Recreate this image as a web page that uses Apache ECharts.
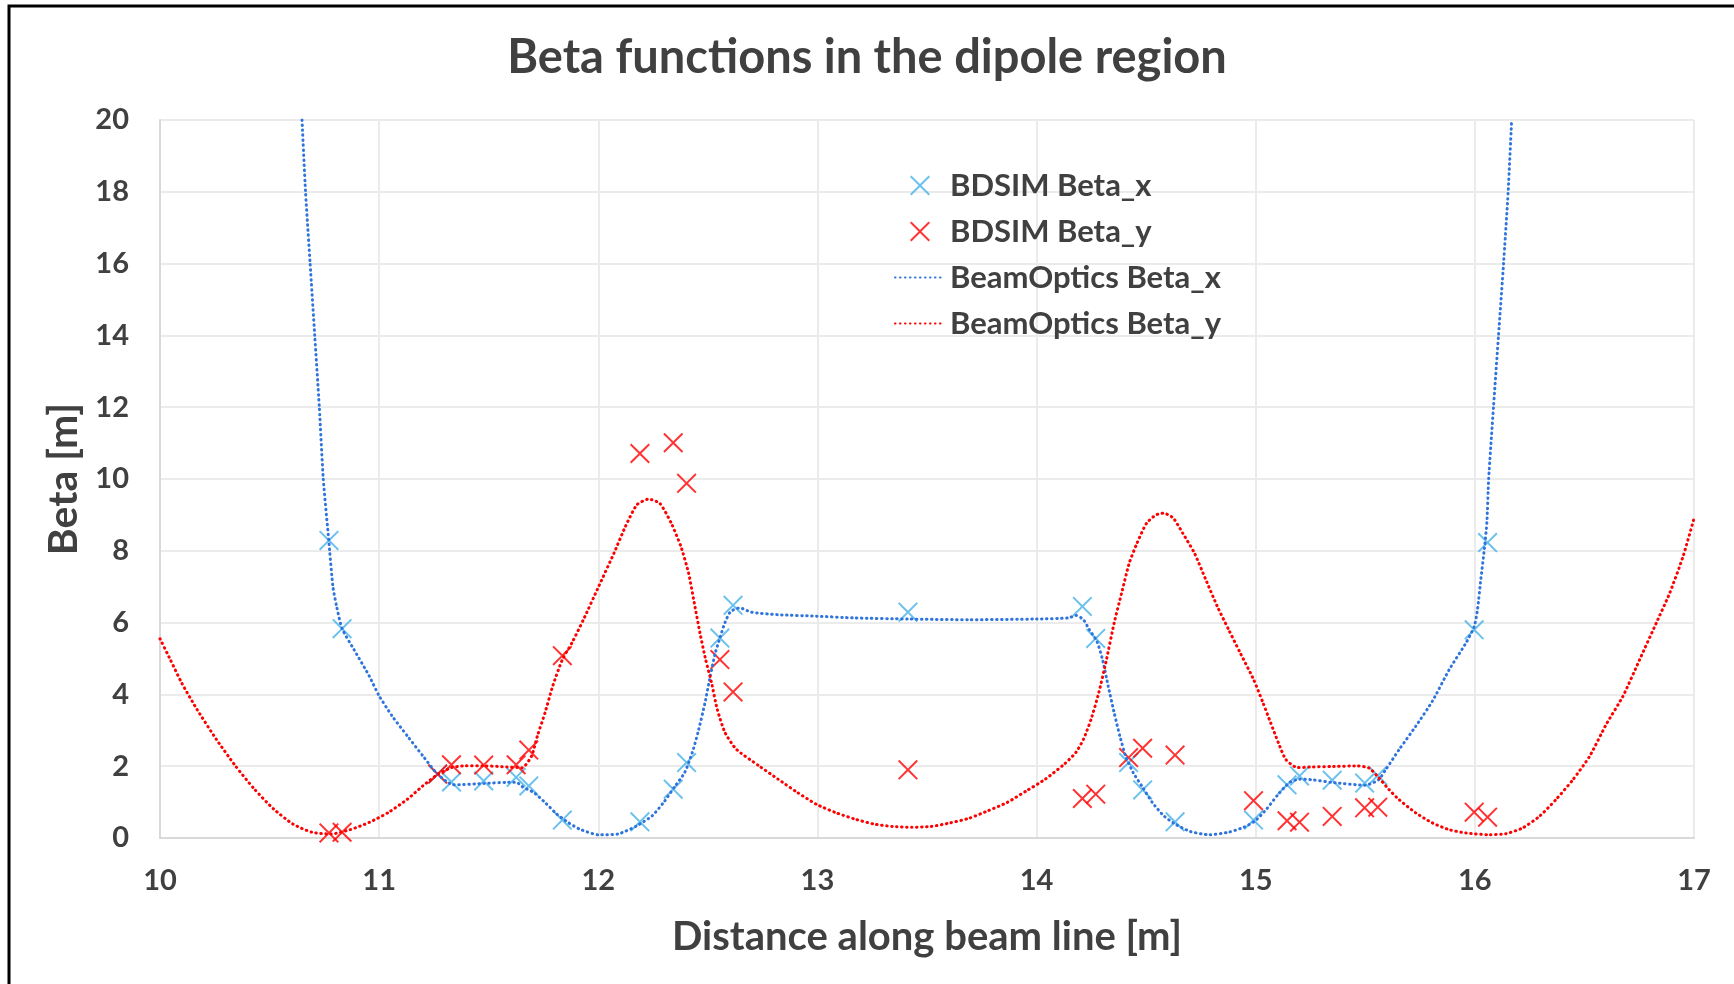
<!DOCTYPE html>
<html>
<head>
<meta charset="utf-8">
<title>Beta functions in the dipole region</title>
<script src="https://cdn.jsdelivr.net/npm/echarts@6/dist/echarts.min.js"></script>
<style>
html, body { margin: 0; padding: 0; background: #fff; }
#chart { width: 1734px; height: 984px; }
</style>
</head>
<body>
<div id="chart"></div>
<script>
// BDSIM sample positions along the beam line [m]
var bdsimS = [10.771, 10.831, 11.267, 11.33, 11.477, 11.625, 11.683, 11.836, 12.19, 12.342, 12.403, 12.555, 12.615,
    13.413, 14.209, 14.27, 14.42, 14.484, 14.632, 14.99, 15.143, 15.2, 15.349, 15.497, 15.557, 15.997, 16.058];
var bdsimBetaX = [8.29, 5.83, 1.78, 1.56, 1.59, 1.69, 1.45, 0.5, 0.45, 1.36, 2.1, 5.57, 6.48,
    6.29, 6.45, 5.56, 2.1, 1.34, 0.45, 0.5, 1.48, 1.73, 1.61, 1.53, 1.74, 5.8, 8.23];
var bdsimBetaY = [0.14, 0.16, 1.78, 2.04, 2.03, 2.04, 2.45, 5.08, 10.71, 11.01, 9.88, 4.97, 4.07,
    1.9, 1.1, 1.22, 2.24, 2.5, 2.31, 1.04, 0.48, 0.44, 0.6, 0.84, 0.86, 0.72, 0.58];

// BeamOptics curves, [s, beta]
var opticsBetaX = [[10.648, 20], [10.664, 18], [10.685, 16], [10.706, 14], [10.727, 12], [10.745, 10], [10.77, 8.3],
    [10.789, 7.0], [10.806, 6.45], [10.831, 5.83], [10.885, 5.25], [10.955, 4.51], [10.998, 3.98], [11.059, 3.4],
    [11.129, 2.84], [11.199, 2.29], [11.26, 1.82], [11.304, 1.59], [11.339, 1.48], [11.478, 1.52], [11.583, 1.55],
    [11.627, 1.55], [11.653, 1.43], [11.705, 1.27], [11.757, 0.99], [11.81, 0.67], [11.862, 0.435], [11.914, 0.25],
    [12.0, 0.09], [12.089, 0.11], [12.176, 0.34], [12.246, 0.62], [12.298, 0.99], [12.351, 1.45], [12.394, 1.82],
    [12.429, 2.38], [12.455, 2.94], [12.487, 3.77], [12.511, 4.51], [12.534, 5.16], [12.555, 5.57], [12.578, 6.0],
    [12.604, 6.31], [12.646, 6.41], [12.699, 6.29], [12.82, 6.22], [12.995, 6.18], [13.169, 6.13], [13.413, 6.1],
    [13.692, 6.08], [14.0, 6.1], [14.145, 6.13], [14.18, 6.2], [14.214, 6.08], [14.24, 5.81], [14.275, 5.48],
    [14.301, 4.97], [14.327, 4.23], [14.354, 3.49], [14.38, 2.84], [14.406, 2.29], [14.441, 1.82], [14.484, 1.41],
    [14.528, 0.99], [14.58, 0.62], [14.632, 0.39], [14.702, 0.18], [14.789, 0.09], [14.876, 0.16], [14.946, 0.3],
    [14.998, 0.48], [15.05, 0.81], [15.103, 1.22], [15.155, 1.55], [15.2, 1.64], [15.26, 1.62], [15.347, 1.55],
    [15.5, 1.47], [15.56, 1.62], [15.593, 1.9], [15.654, 2.46], [15.73, 3.11], [15.806, 3.81], [15.883, 4.69],
    [15.959, 5.43], [15.997, 5.89], [16.012, 6.36], [16.027, 7.19], [16.043, 8.03], [16.055, 8.8], [16.063, 10],
    [16.085, 12], [16.108, 14], [16.131, 16], [16.152, 18], [16.168, 20]];
var opticsBetaY = [[10, 5.55], [10.047, 4.97], [10.099, 4.32], [10.169, 3.58], [10.257, 2.75], [10.344, 2.01],
    [10.431, 1.36], [10.518, 0.81], [10.606, 0.39], [10.693, 0.16], [10.78, 0.11], [10.867, 0.23], [10.955, 0.435],
    [11.042, 0.71], [11.129, 1.08], [11.199, 1.45], [11.269, 1.78], [11.33, 1.96], [11.391, 2.01], [11.478, 2.01],
    [11.583, 1.98], [11.653, 1.96], [11.696, 2.29], [11.722, 2.84], [11.757, 3.49], [11.792, 4.23], [11.836, 4.97],
    [11.88, 5.44], [11.932, 6.08], [12.002, 7.01], [12.072, 7.94], [12.124, 8.68], [12.176, 9.28], [12.229, 9.44],
    [12.281, 9.32], [12.333, 8.77], [12.377, 8.12], [12.412, 7.38], [12.438, 6.55], [12.464, 5.71], [12.49, 4.97],
    [12.517, 4.32], [12.543, 3.58], [12.578, 2.94], [12.63, 2.47], [12.733, 2.01], [12.82, 1.64], [12.908, 1.27],
    [12.995, 0.94], [13.082, 0.71], [13.169, 0.53], [13.256, 0.39], [13.343, 0.32], [13.43, 0.3], [13.517, 0.32],
    [13.605, 0.42], [13.692, 0.55], [13.779, 0.76], [13.866, 0.99], [13.953, 1.31], [14.04, 1.64], [14.127, 2.06],
    [14.179, 2.38], [14.214, 2.75], [14.249, 3.31], [14.284, 4.05], [14.319, 4.97], [14.354, 5.99], [14.388, 6.82],
    [14.423, 7.66], [14.458, 8.21], [14.502, 8.77], [14.545, 9.0], [14.58, 9.05], [14.624, 8.91], [14.667, 8.49],
    [14.72, 7.94], [14.772, 7.2], [14.824, 6.46], [14.876, 5.81], [14.929, 5.16], [14.99, 4.42], [15.033, 3.77],
    [15.068, 3.21], [15.103, 2.66], [15.137, 2.19], [15.19, 1.96], [15.26, 1.98], [15.347, 1.99], [15.463, 2.01],
    [15.517, 1.95], [15.563, 1.67], [15.608, 1.35], [15.654, 1.07], [15.73, 0.7], [15.806, 0.42], [15.883, 0.23],
    [15.959, 0.14], [16.066, 0.09], [16.142, 0.12], [16.218, 0.28], [16.294, 0.6], [16.37, 1.07], [16.447, 1.62],
    [16.523, 2.27], [16.599, 3.16], [16.675, 3.94], [16.752, 4.97], [16.828, 5.99], [16.889, 6.82], [16.95, 7.84],
    [17.0, 8.9]];

var seriesNames = ['BDSIM Beta_x', 'BDSIM Beta_y', 'BeamOptics Beta_x', 'BeamOptics Beta_y'];

var FONT = 'Lato';
var TEXT = '#404040';
// thin "x" marker
var crossSymbol = 'path://M0,7L7,0L50,43L93,0L100,7L57,50L100,93L93,100L50,57L7,100L0,93L43,50Z';

function pairs(xs, ys) {
    var out = [];
    for (var i = 0; i < xs.length; i++) {
        out.push([xs[i], ys[i]]);
    }
    return out;
}

var option = {
    backgroundColor: '#fff',
    animation: false,
    title: {
        text: 'Beta functions in the dipole region',
        left: 'center',
        top: 34,
        padding: 0,
        textStyle: {fontFamily: FONT, fontWeight: 'bold', fontSize: 47, color: TEXT}
    },
    legend: {
        orient: 'vertical',
        left: 889,
        top: 165,
        itemWidth: 50,
        itemHeight: 20,
        itemGap: 15,
        data: [
            {name: seriesNames[0]},
            {name: seriesNames[1]},
            // dotted line only, no dot in the middle
            {name: seriesNames[2], itemStyle: {opacity: 0}},
            {name: seriesNames[3], itemStyle: {opacity: 0}}
        ],
        textStyle: {fontFamily: FONT, fontWeight: 'bold', fontSize: 31, color: TEXT}
    },
    grid: {left: 160, right: 40, top: 120, bottom: 146},
    xAxis: {
        type: 'value',
        min: 10,
        max: 17,
        interval: 1,
        name: 'Distance along beam line [m]',
        nameLocation: 'middle',
        nameGap: 79,
        nameTextStyle: {fontFamily: FONT, fontWeight: 'bold', fontSize: 40, color: TEXT},
        axisLine: {show: true, lineStyle: {color: '#d9d9d9', width: 2}},
        axisTick: {show: false},
        axisLabel: {margin: 28, fontFamily: FONT, fontWeight: 'bold', fontSize: 29, color: TEXT},
        splitLine: {show: true, lineStyle: {color: '#ebebeb', width: 2}}
    },
    yAxis: {
        type: 'value',
        min: 0,
        max: 20,
        interval: 2,
        name: 'Beta [m]',
        nameLocation: 'middle',
        nameGap: 74,
        nameTextStyle: {fontFamily: FONT, fontWeight: 'bold', fontSize: 41, color: TEXT},
        axisLine: {show: true, lineStyle: {color: '#d9d9d9', width: 2}},
        axisTick: {show: false},
        axisLabel: {margin: 31, fontFamily: FONT, fontWeight: 'bold', fontSize: 29, color: TEXT},
        splitLine: {show: true, lineStyle: {color: '#ebebeb', width: 2}}
    },
    graphic: [{
        type: 'rect',
        silent: true,
        shape: {x: 9, y: 6, width: 1900, height: 1100},
        style: {fill: 'none', stroke: '#000', lineWidth: 3}
    }],
    series: [
        {
            name: seriesNames[0],
            type: 'scatter',
            data: pairs(bdsimS, bdsimBetaX),
            symbol: crossSymbol,
            symbolSize: 20,
            itemStyle: {color: '#45b1e8'}
        },
        {
            name: seriesNames[1],
            type: 'scatter',
            data: pairs(bdsimS, bdsimBetaY),
            symbol: crossSymbol,
            symbolSize: 20,
            itemStyle: {color: '#ff0000'}
        },
        {
            name: seriesNames[2],
            type: 'line',
            data: opticsBetaX,
            symbol: 'none',
            smooth: 0.2,
            itemStyle: {color: '#2f74dc'},
            lineStyle: {color: '#2f74dc', width: 3, type: [0.5, 4.5], cap: 'round'}
        },
        {
            name: seriesNames[3],
            type: 'line',
            data: opticsBetaY,
            symbol: 'none',
            smooth: 0.2,
            itemStyle: {color: '#ff0000'},
            lineStyle: {color: '#ff0000', width: 3, type: [0.5, 4.5], cap: 'round'}
        }
    ]
};

var chart = echarts.init(document.getElementById('chart'));
chart.setOption(option);
</script>
</body>
</html>
